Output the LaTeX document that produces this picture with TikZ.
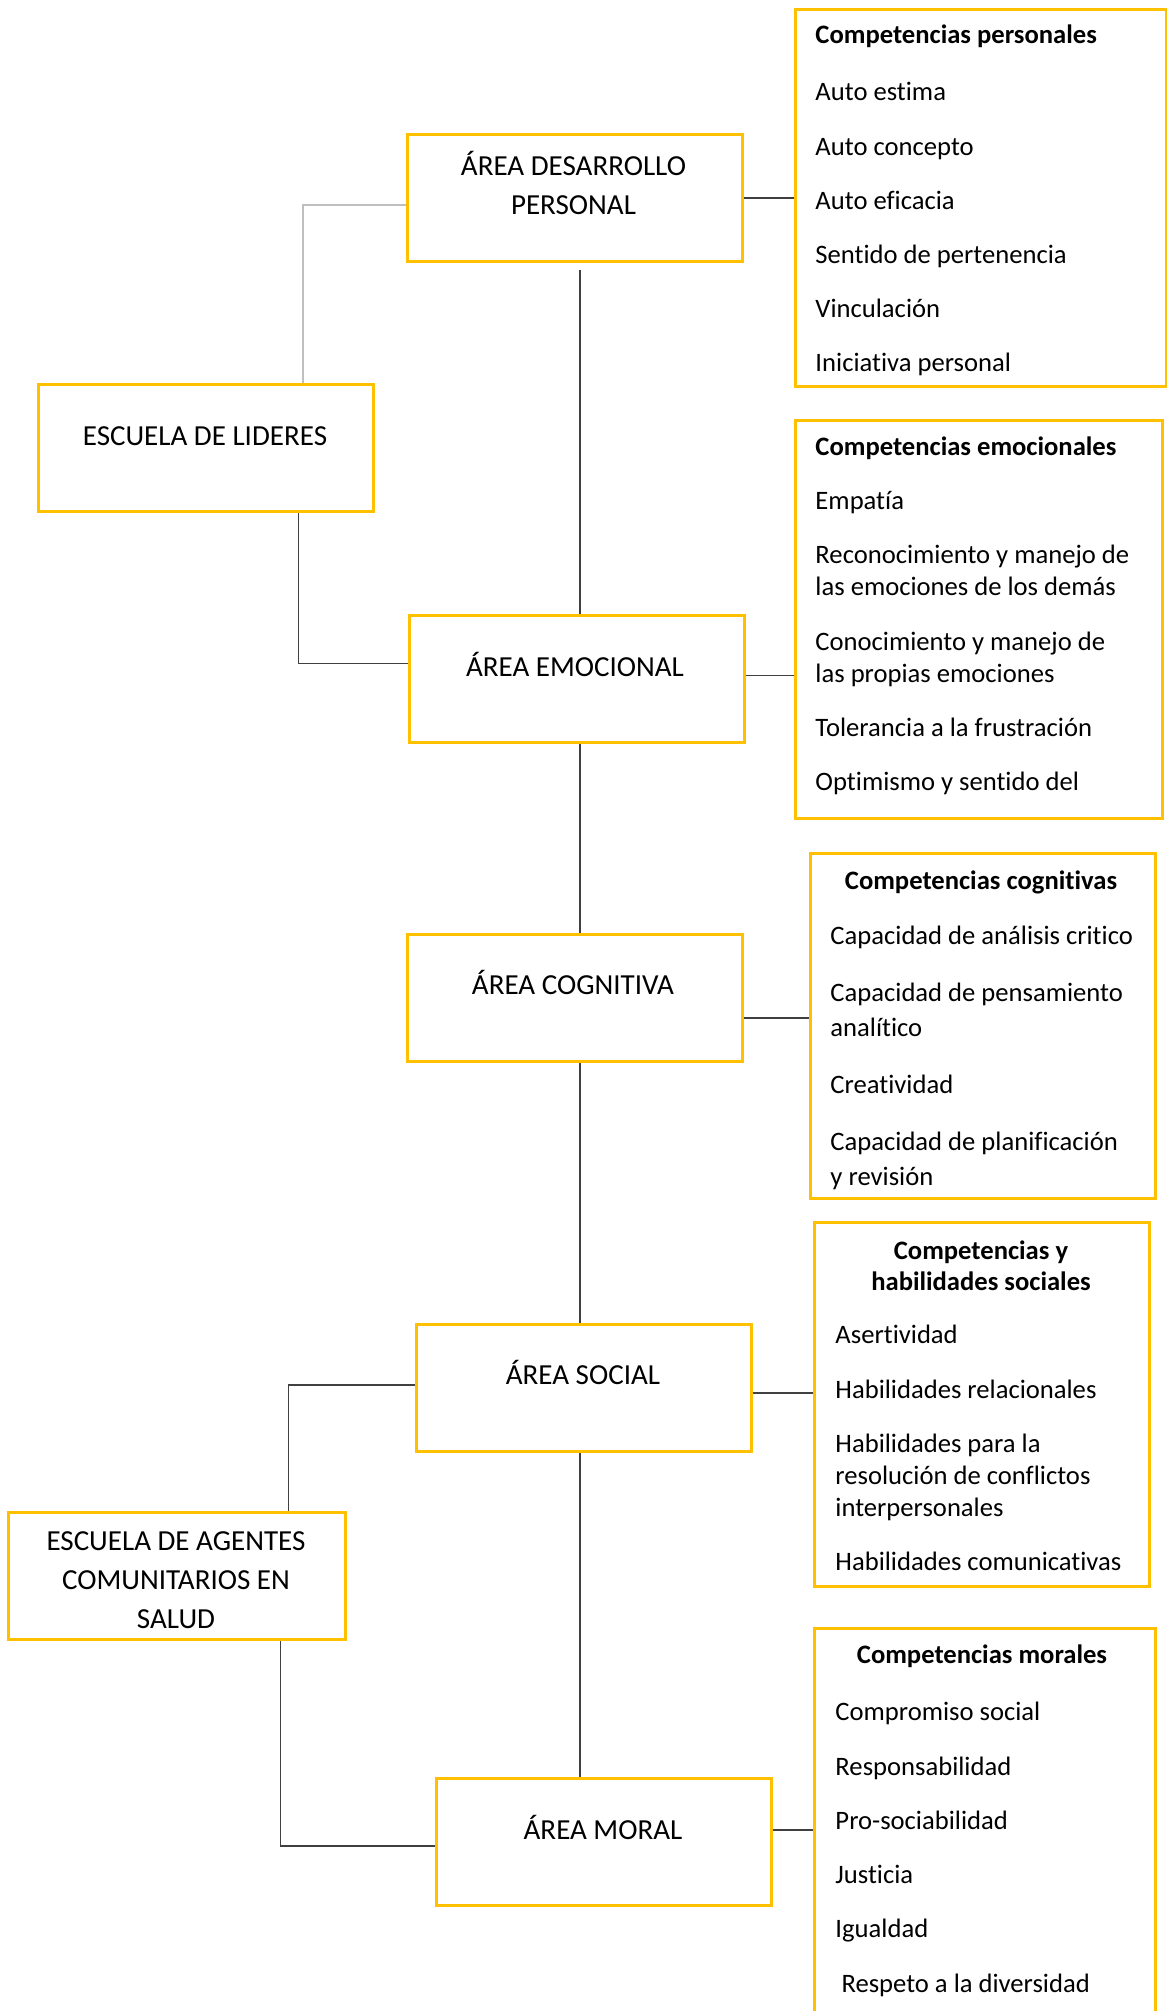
\documentclass[tikz,border=0pt]{standalone}
\usepackage{fontspec}
\setmainfont{Carlito}[Ligatures=NoCommon]
\usetikzlibrary{positioning}

\definecolor{boxgold}{RGB}{255,192,0}
\definecolor{linkdark}{RGB}{64,64,64}
\definecolor{linklight}{RGB}{191,191,191}

\tikzset{
  areabox/.style={draw=boxgold, line width=1.25pt, minimum width=138.4pt, minimum height=52.5pt, inner sep=0pt, anchor=north west},
  listbox/.style={draw=boxgold, line width=1.25pt, inner sep=0pt, anchor=north west},
  areatext/.style={font=\fontsize{12}{16}\selectfont, align=center, inner sep=0pt},
  listhead/.style={font=\fontsize{11}{12.8}\selectfont\bfseries, align=center, inner sep=0pt},
  listtext/.style={font=\fontsize{11}{13.2}\selectfont, align=left, inner sep=0pt, anchor=north west},
  link/.style={draw=linkdark, line width=0.6pt},
  linkgrey/.style={draw=linklight, line width=0.8pt}
}

\begin{document}
\begin{tikzpicture}[x=0.4132pt, y=-0.4132pt]
    % Page
    \useasboundingbox (0,0) rectangle (1167,2011);
    \clip (0,0) rectangle (1167,2011);
    \fill[white] (0,0) rectangle (1167,2011);

    % Area boxes
    \node[areabox] (desBox) at (406,133) {};
    \node[areabox] (emoBox) at (408,614) {};
    \node[areabox] (cogBox) at (406,933) {};
    \node[areabox] (socBox) at (415,1323) {};
    \node[areabox] (morBox) at (435,1777) {};
    \node[areatext] (desTxt) at (573.5,183) {ÁREA DESARROLLO\\PERSONAL};
    \node[areatext] (emoTxt) at (575,664.5) {ÁREA EMOCIONAL};
    \node[areatext] (cogTxt) at (573,982.5) {ÁREA COGNITIVA};
    \node[areatext] (socTxt) at (583,1372.5) {ÁREA SOCIAL};
    \node[areatext] (morTxt) at (603,1827.5) {ÁREA MORAL};

    % Schools
    \node[areabox] (lidBox) at (37,383) {};
    \node[areabox, minimum width=139.2pt] (ageBox) at (7,1511) {};
    \node[areatext] (lidTxt) at (205,436) {ESCUELA DE LIDERES};
    \node[areatext] (ageTxt) at (176,1580) {ESCUELA DE AGENTES\\COMUNITARIOS EN\\SALUD};

    % Competencias personales
    \node[listbox, minimum width=153.3pt, minimum height=155.8pt] (perBox) at (794,8) {};
    \node[listhead, anchor=west] (perHead) at (815,36) {Competencias personales};
    \node[listtext] (perList) at (815,82) {Auto estima\\[9.2pt]Auto concepto\\[9.2pt]Auto eficacia\\[9.2pt]Sentido de pertenencia\\[9.2pt]Vinculación\\[9.2pt]Iniciativa personal};

    % Competencias emocionales
    \node[listbox, minimum width=151.6pt, minimum height=164.5pt] (emcBox) at (794,419) {};
    \node[listhead, anchor=west] (emcHead) at (815,448) {Competencias emocionales};
    \node[listtext] (emcList) at (815,491) {Empatía\\[9.2pt]Reconocimiento y manejo de\\las emociones de los demás\\[9.2pt]Conocimiento y manejo de\\las propias emociones\\[9.2pt]Tolerancia a la frustración\\[9.2pt]Optimismo y sentido del};

    % Competencias cognitivas
    \node[listbox, minimum width=142.6pt, minimum height=142.6pt] (cgnBox) at (809,852) {};
    \node[listhead] (cgnHead) at (981,882) {Competencias cognitivas};
    \node[listtext, font=\fontsize{11}{14.5}\selectfont] (cgnList) at (830,926) {Capacidad de análisis critico\\[9pt]Capacidad de pensamiento\\analítico\\[9pt]Creatividad\\[9pt]Capacidad de planificación\\y revisión};

    % Competencias sociales
    \node[listbox, minimum width=138.4pt, minimum height=150.4pt] (sclBox) at (813,1221) {};
    \node[listhead] (sclHead) at (981,1266) {Competencias y\\habilidades sociales};
    \node[listtext] (sclList) at (835,1325) {Asertividad\\[9.2pt]Habilidades relacionales\\[9.2pt]Habilidades para la\\resolución de conflictos\\interpersonales\\[9.2pt]Habilidades comunicativas};

    % Competencias morales
    \node[listbox, minimum width=140.9pt, minimum height=173.5pt] (mrlBox) at (813,1627) {};
    \node[listhead] (mrlHead) at (982,1656) {Competencias morales};
    \node[listtext] (mrlList) at (835,1702) {Compromiso social\\[9.2pt]Responsabilidad\\[9.2pt]Pro-sociabilidad\\[9.2pt]Justicia\\[9.2pt]Igualdad\\[9.2pt]\hspace{2.5pt}Respeto a la diversidad};

    % Main spine
    \coordinate (spine) at (580,0);
    \draw[link, shorten <=2.9pt] (desBox.south -| spine) -- (emoBox.north -| spine);
    \draw[link] (emoBox.south -| spine) -- (cogBox.north -| spine);
    \draw[link] (cogBox.south -| spine) -- (socBox.north -| spine);
    \draw[link] (socBox.south -| spine) -- (morBox.north -| spine);

    % Areas to competencias
    \draw[link] (desBox.east) -- (desBox.east -| perBox.west);
    \draw[link] ([yshift=1.4pt]emoBox.east) -- ([yshift=1.4pt]emoBox.east -| emcBox.west);
    \draw[link] ([yshift=-8.3pt]cogBox.east) -- ([yshift=-8.3pt]cogBox.east -| cgnBox.west);
    \draw[link] ([yshift=-2pt]socBox.east) -- ([yshift=-2pt]socBox.east -| sclBox.west);
    \draw[link] ([yshift=5pt]morBox.east) -- ([yshift=5pt]morBox.east -| mrlBox.west);

    % Schools to areas
    \draw[linkgrey] ([xshift=39.9pt]lidBox.north) |- ([yshift=-2.7pt]desBox.west);
    \draw[link] ([xshift=38.2pt]lidBox.south) |- ([yshift=6.4pt]emoBox.west);
    \draw[link] ([yshift=1.2pt]socBox.west) -| ([xshift=46.1pt]ageBox.north);
    \draw[link] ([xshift=42.8pt]ageBox.south) |- ([yshift=-1.7pt]morBox.west);
\end{tikzpicture}
\end{document}
